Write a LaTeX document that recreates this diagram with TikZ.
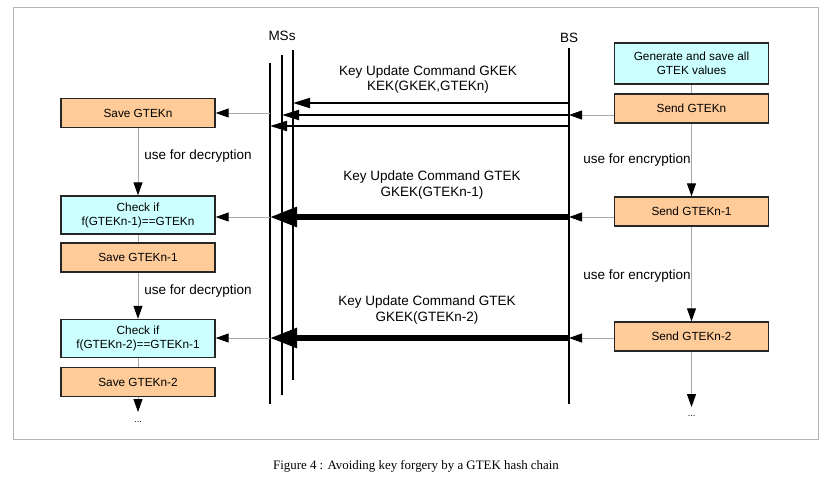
\documentclass[tikz,border=0pt]{standalone}
\usepackage{fontspec}
\setmainfont{Liberation Sans}
\newfontfamily\capfont{Liberation Serif}
\usepackage{xcolor}
\usetikzlibrary{arrows.meta}
\usetikzlibrary{positioning}

\definecolor{peach}{HTML}{FFCC99}
\definecolor{aqua}{HTML}{CCFFFF}
\definecolor{feedgray}{HTML}{A8A8A8}
\definecolor{framegray}{HTML}{B4B4B4}

\begin{document}
\begin{tikzpicture}[x=1pt,y=-1pt,semithick]
  \tikzstyle{box}=[draw=black!85, line width=1.4pt, minimum width=154pt, minimum height=29pt, inner sep=1pt, align=center, font=\fontsize{11.8}{14}\selectfont]
  \tikzstyle{sbox}=[box, fill=peach]
  \tikzstyle{cbox}=[box, fill=aqua]
  \tikzstyle{lbl}=[font=\fontsize{13.5}{15.5}\selectfont, align=center, inner sep=0pt]
  \tikzstyle{life}=[line width=1.6pt, black]
  \tikzstyle{feedline}=[draw=feedgray, line width=1pt]
  \tikzstyle{feed}=[feedline, -{Triangle[length=13pt,width=9pt,color=black]}]
  \tikzstyle{msg}=[line width=2pt, -{Triangle[length=17pt,width=10pt]}]
  \tikzstyle{bigmsg}=[line width=5.5pt, -{Triangle[length=27pt,width=19pt]}]
  \tikzstyle{dots}=[font=\fontsize{9}{10}\selectfont, inner sep=0pt]

  \useasboundingbox (0,0) rectangle (829,479);
  \draw[framegray, line width=1pt] (13,7) rectangle (818,439);

  % lifelines
  \coordinate (bsT) at (569,48);  \coordinate (bsB) at (569,404);
  \coordinate (ms1T) at (270,63); \coordinate (ms1B) at (270,404);
  \coordinate (ms2T) at (282,55); \coordinate (ms2B) at (282,395);
  \coordinate (ms3T) at (293,50); \coordinate (ms3B) at (293,380);
  \foreach \l in {bs,ms1,ms2,ms3}
    \draw[life] (\l T) -- (\l B);
  \node[lbl] (mss) at (282,36) {MSs};
  \node[lbl] (bs) at (569,38) {BS};

  % BS side
  \node[cbox, minimum height=41pt] (gen) at (691.5,63.5) {Generate and save all\\GTEK values};
  \node[sbox] (sendn) at (691.5,108.5) {Send GTEKn};
  \node[sbox] (send1) at (691.5,211.5) {Send GTEKn-1};
  \node[sbox] (send2) at (691.5,336.5) {Send GTEKn-2};
  \coordinate (rend) at (691.5,407);
  \node[dots] (rdots) at (691.5,416) {...};

  % MS side
  \node[sbox] (savn) at (138,113) {Save GTEKn};
  \node[cbox, minimum height=38pt] (chk1) at (138,215) {Check if\\f(GTEKn-1)==GTEKn};
  \node[sbox] (savn1) at (138,257.5) {Save GTEKn-1};
  \node[cbox, minimum height=38pt] (chk2) at (138,338.5) {Check if\\f(GTEKn-2)==GTEKn-1};
  \node[sbox] (savn2) at (138,382) {Save GTEKn-2};
  \coordinate (lend) at (138,412);
  \node[dots] (ldots) at (138,422) {...};

  % vertical flow
  \draw[feedline] (gen.south) -- (sendn.north);
  \draw[feed] (sendn.south) -- (send1.north);
  \draw[feed] (send1.south) -- (send2.north);
  \draw[feed] (send2.south) -- (rend);
  \draw[feed] (savn.south) -- (chk1.north);
  \draw[feedline] (chk1.south) -- (savn1.north);
  \draw[feed] (savn1.south) -- (chk2.north);
  \draw[feedline] (chk2.south) -- (savn2.north);
  \draw[feed] (savn2.south) -- (lend);
  \node[lbl, anchor=west] (enc1) at (583,160) {use for encryption};
  \node[lbl, anchor=west] (enc2) at (583,276) {use for encryption};
  \node[lbl, anchor=west] (dec1) at (144,156) {use for decryption};
  \node[lbl, anchor=west] (dec2) at (144,291) {use for decryption};

  % messages
  \coordinate (k1) at (569,103);
  \coordinate (k2) at (569,115);
  \coordinate (k3) at (569,126);
  \coordinate (g1) at (569,217);
  \coordinate (g2) at (569,338);
  \draw[feed] (sendn.west |- k2) -- (k2);
  \draw[msg] (k1) -- (k1 -| ms3T);
  \draw[msg] (k2) -- (k2 -| ms2T);
  \draw[msg] (k3) -- (k3 -| ms1T);
  \draw[feed] (savn.east -| ms1T) -- (savn.east);
  \node[lbl] (m1) at (428,79.5) {Key Update Command GKEK\\KEK(GKEK,GTEKn)};

  \draw[feed] (send1.west |- g1) -- (g1);
  \draw[bigmsg] (g1) -- (g1 -| ms1T);
  \draw[feed] (g1 -| ms1T) -- (g1 -| chk1.east);
  \node[lbl] (m2) at (432,185) {Key Update Command GTEK\\GKEK(GTEKn-1)};

  \draw[feed] (send2.west |- g2) -- (g2);
  \draw[bigmsg] (g2) -- (g2 -| ms1T);
  \draw[feed] (g2 -| ms1T) -- (g2 -| chk2.east);
  \node[lbl] (m3) at (427,310) {Key Update Command GTEK\\GKEK(GTEKn-2)};

  \node[font=\capfont\fontsize{12.9}{14}\selectfont, inner sep=0pt] (cap) at (416,466) {Figure 4 : Avoiding key forgery by a GTEK hash chain};
\end{tikzpicture}
\end{document}
